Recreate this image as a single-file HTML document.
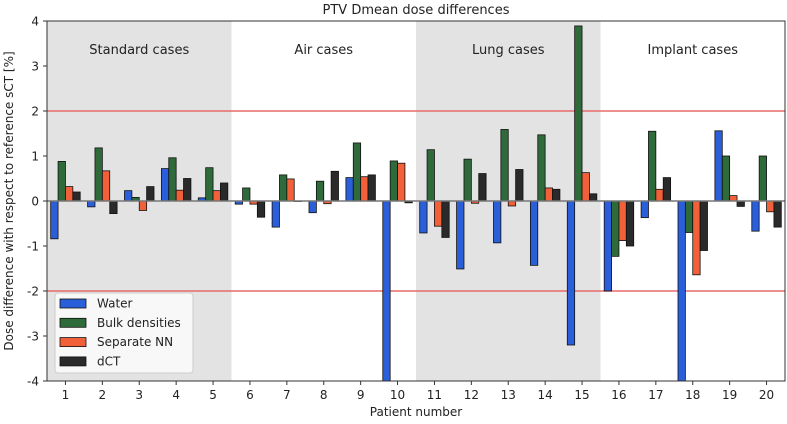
<!DOCTYPE html>
<html><head><meta charset="utf-8"><style>
body{margin:0;background:#fff}
svg{font-family:"DejaVu Sans","Liberation Sans",sans-serif}
</style></head><body>
<svg id="chart" width="787" height="419"></svg>
<script>
const patients=[1,2,3,4,5,6,7,8,9,10,11,12,13,14,15,16,17,18,19,20];
const water=[-0.84,-0.13,0.23,0.72,0.07,-0.07,-0.58,-0.26,0.52,-4.5,-0.71,-1.51,-0.93,-1.43,-3.2,-2.0,-0.37,-4.5,1.56,-0.67];
const bulk=[0.88,1.18,0.08,0.96,0.74,0.29,0.58,0.44,1.29,0.89,1.14,0.93,1.59,1.47,3.89,-1.23,1.55,-0.7,1.0,1.0];
const sepNN=[0.32,0.67,-0.21,0.24,0.23,-0.07,0.49,-0.06,0.54,0.84,-0.56,-0.05,-0.11,0.29,0.63,-0.88,0.26,-1.64,0.12,-0.24];
const dct=[0.2,-0.28,0.32,0.5,0.4,-0.36,0,0.66,0.58,-0.04,-0.81,0.61,0.7,0.26,0.16,-1.0,0.52,-1.1,-0.12,-0.58];
const yTicks=[-4,-3,-2,-1,0,1,2,3,4];
const regions=[{a:0.5,b:5.5,label:"Standard cases",shade:true},{a:5.5,b:10.5,label:"Air cases",shade:false},{a:10.5,b:15.5,label:"Lung cases",shade:true},{a:15.5,b:20.5,label:"Implant cases",shade:false}];
const series=[{name:"Water",vals:water,color:"#2b5fd9"},{name:"Bulk densities",vals:bulk,color:"#2f6b3a"},{name:"Separate NN",vals:sepNN,color:"#f2603a"},{name:"dCT",vals:dct,color:"#2a2a2a"}];
const L=47,R=785,T=21,B=381;
const X=v=>L+(v-0.5)/20*(R-L);
const Y=v=>B-(v+4)/8*(B-T);
const svg=document.getElementById('chart');
const NS="http://www.w3.org/2000/svg";
function mk(tag,at,parent){const e=document.createElementNS(NS,tag);for(const k in at)e.setAttribute(k,at[k]);(parent||svg).appendChild(e);return e;}
const defs=mk('defs',{});const cp=mk('clipPath',{id:'clip'},defs);mk('rect',{x:L,y:T,width:R-L,height:B-T},cp);
regions.forEach((r,i)=>{
 if(r.shade){const s=mk('rect',{x:X(r.a),y:T,width:X(r.b)-X(r.a),height:B-T,fill:'#e3e3e3'});
 
 }
 const t=mk('text',{x:(X(r.a)+X(r.b))/2,y:54,'text-anchor':'middle','font-size':13,fill:'#222'});t.textContent=r.label;
 
 
});
[2,-2].forEach(v=>{const l=mk('line',{x1:L,x2:R,y1:Y(v),y2:Y(v),stroke:'#e86a6a','stroke-width':1.5});
 
 });
const g=mk('g',{'clip-path':'url(#clip)'});
const bw=0.2;
series.forEach((s,si)=>{s.vals.forEach((v,i)=>{
 const xc=patients[i]+(si-1.5)*bw;
 const y0=Y(Math.max(v,0)),y1=Y(Math.min(v,0));
 const r=mk('rect',{x:X(xc-bw/2),y:y0,width:X(bw)-X(0),height:Math.max(y1-y0,0.5),fill:s.color,stroke:'#111','stroke-width':0.8},g);
 
 
});});
const z=mk('line',{x1:L,x2:R,y1:Y(0),y2:Y(0),stroke:'#777','stroke-width':1.5});


mk('rect',{x:L,y:T,width:R-L,height:B-T,fill:'none',stroke:'#333','stroke-width':1});
yTicks.forEach(v=>{mk('line',{x1:L-4,x2:L,y1:Y(v),y2:Y(v),stroke:'#333'});
 const t=mk('text',{x:L-8,y:Y(v)+4.5,'text-anchor':'end','font-size':12,fill:'#222'});t.textContent=v;
 
 });
patients.forEach(p=>{mk('line',{x1:X(p),x2:X(p),y1:B,y2:B+4,stroke:'#333'});
 const t=mk('text',{x:X(p),y:B+18,'text-anchor':'middle','font-size':12,fill:'#222'});t.textContent=p;
 
 });
let t=mk('text',{x:(L+R)/2,y:14,'text-anchor':'middle','font-size':13,fill:'#222'});t.textContent="PTV Dmean dose differences";


t=mk('text',{x:(L+R)/2,y:416,'text-anchor':'middle','font-size':12,fill:'#222'});t.textContent="Patient number";


t=mk('text',{x:0,y:0,'text-anchor':'middle','font-size':12,fill:'#222',transform:`translate(13,${(T+B)/2}) rotate(-90)`});t.textContent="Dose difference with respect to reference sCT [%]";


const lg=mk('g',{});


mk('rect',{x:55,y:293,width:138,height:80,rx:3,fill:'#f8f8f8',stroke:'#ccc'},lg);
series.forEach((s,i)=>{const yy=303+i*19.3;
 mk('rect',{x:60,y:yy-4,width:26,height:9,fill:s.color,stroke:'#111','stroke-width':0.8},lg);
 const tt=mk('text',{x:97,y:yy+4.5,'font-size':12,fill:'#222'},lg);tt.textContent=s.name;
 
 });
</script>
</body></html>
